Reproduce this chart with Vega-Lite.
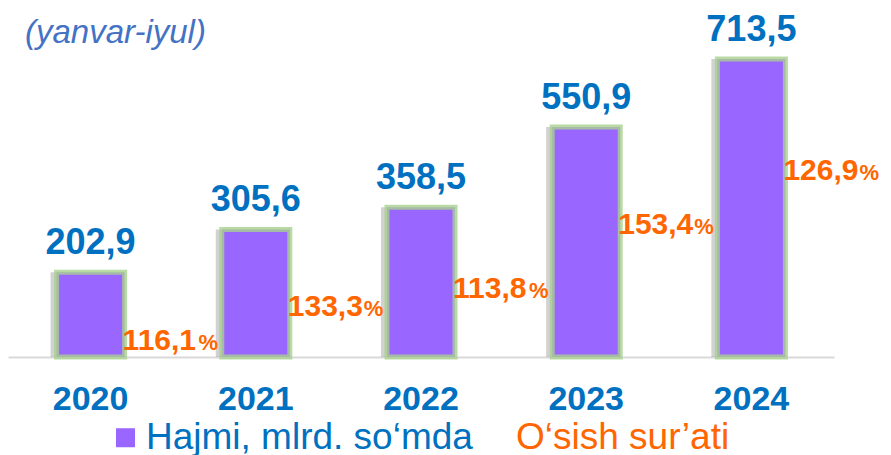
{
  "$schema": "https://vega.github.io/schema/vega-lite/v6.json",
  "width": 826,
  "height": 334,
  "autosize": "none",
  "padding": {"left": 8, "top": 23, "right": 57, "bottom": 98},
  "background": "white",
  "title": {"text": "(yanvar-iyul)", "anchor": "start", "frame": "group", "font": "Liberation Sans", "fontStyle": "italic", "fontWeight": "normal", "fontSize": 33, "color": "#4472C4", "baseline": "alphabetic", "offset": 0, "dx": 17, "dy": 64},
  "config": {
    "font": "Liberation Sans",
    "view": {"stroke": null},
    "locale": {"number": {"decimal": ",", "thousands": " ", "grouping": [3], "currency": ["", ""]}}
  },
  "data": {
    "values": [
      {"year": "2020", "value": 202.9, "growth": 116.1, "series": "Hajmi, mlrd. so‘mda"},
      {"year": "2021", "value": 305.6, "growth": 133.3, "series": "Hajmi, mlrd. so‘mda"},
      {"year": "2022", "value": 358.5, "growth": 113.8, "series": "Hajmi, mlrd. so‘mda"},
      {"year": "2023", "value": 550.9, "growth": 153.4, "series": "Hajmi, mlrd. so‘mda"},
      {"year": "2024", "value": 713.5, "growth": 126.9, "series": "Hajmi, mlrd. so‘mda"}
    ]
  },
  "encoding": {
    "x": {
      "field": "year", "type": "nominal",
      "scale": {"paddingInner": 0.588, "paddingOuter": 0.294},
      "axis": {"title": null, "labelAngle": 0, "ticks": false, "domainColor": "#D9D9D9", "domainWidth": 2, "labelFontSize": 34, "labelFontWeight": "bold", "labelColor": "#0070C0", "labelPadding": 25, "labelFont": "Liberation Sans"}
    }
  },
  "layer": [
    {
      "mark": {"type": "bar", "color": "#6b6b6b", "opacity": 0.3, "xOffset": -6},
      "encoding": {"y": {"field": "value", "type": "quantitative", "scale": {"domain": [0, 800]}, "axis": null}}
    },
    {
      "mark": {"type": "bar", "stroke": "#A9D18E", "strokeWidth": 5, "strokeOpacity": 0.8},
      "encoding": {
        "y": {"field": "value", "type": "quantitative"},
        "color": {
          "field": "series", "type": "nominal",
          "scale": {"domain": ["Hajmi, mlrd. so‘mda", "O‘sish sur’ati"], "range": ["#9966FF", "rgba(255,255,255,0)"]},
          "legend": {
            "orient": "none", "legendX": 99, "legendY": 396, "direction": "horizontal", "title": null,
            "symbolType": "square", "symbolSize": 361, "labelFontSize": 37, "labelFont": "Liberation Sans",
            "labelOffset": 2, "columnPadding": 4, "labelLimit": 600, "padding": 0, "symbolStrokeWidth": 0,
            "labelColor": {"expr": "indexof(datum.label, 'sish') >= 0 ? '#FF6600' : '#0070C0'"}
          }
        }
      }
    },
    {
      "mark": {"type": "text", "dy": -18, "baseline": "alphabetic", "fontSize": 36, "fontWeight": "bold", "color": "#0070C0"},
      "encoding": {
        "y": {"field": "value", "type": "quantitative"},
        "text": {"field": "value", "type": "quantitative", "format": ".1f"}
      }
    },
    {
      "transform": [{"calculate": "datum.value * 0.8 - 120", "as": "labelY"}],
      "mark": {"type": "text", "align": "left", "baseline": "alphabetic", "dx": 32, "dy": 11, "fontSize": 30, "fontWeight": "bold", "color": "#FF6600"},
      "encoding": {
        "y": {"field": "labelY", "type": "quantitative"},
        "text": {"field": "growth", "type": "quantitative", "format": ".1f"}
      }
    },
    {
      "transform": [{"calculate": "datum.value * 0.8 - 120", "as": "labelY"}],
      "mark": {"type": "text", "align": "left", "baseline": "alphabetic", "dx": 108, "dy": 11, "fontSize": 22, "fontWeight": "bold", "color": "#FF6600"},
      "encoding": {
        "y": {"field": "labelY", "type": "quantitative"},
        "text": {"value": "%"}
      }
    }
  ]
}
